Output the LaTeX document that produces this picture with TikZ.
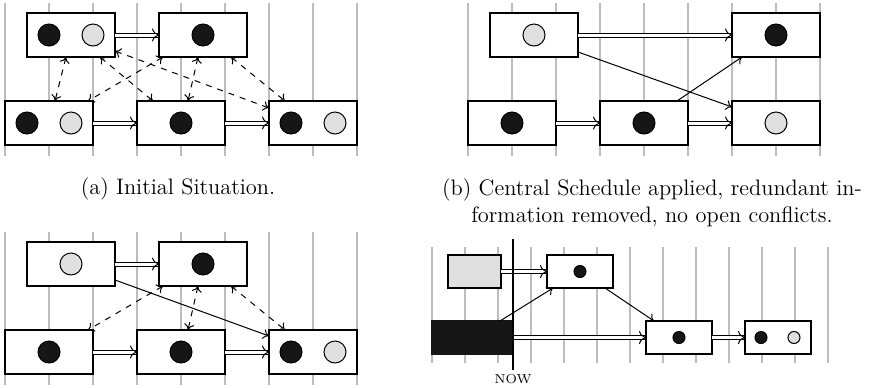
\documentclass[tikz,border=0pt]{standalone}
\usetikzlibrary{arrows.meta, calc}

\definecolor{tokendark}{HTML}{161616}
\definecolor{tokenlight}{HTML}{E0E0E0}
\definecolor{gridgrey}{HTML}{BDBDBD}

\begin{document}
\begin{tikzpicture}[
    x=0.5pt, y=-0.5pt,
    slot/.style={rectangle, draw, fill=white, line width=0.6pt, inner sep=0pt, outer sep=0pt, minimum width=44pt, minimum height=22pt},
    smallslot/.style={slot, minimum width=33pt, minimum height=16.5pt},
    token/.style={circle, draw, line width=0.5pt, inner sep=0pt, minimum size=11pt},
    smalltoken/.style={token, minimum size=6pt},
    taken/.style={fill=tokendark},
    free/.style={fill=tokenlight},
    gridline/.style={draw=gridgrey, line width=0.6pt},
    flow/.style={double, double distance=1.5pt, line width=0.5pt, -{To[length=3.5pt,width=6.5pt]}},
    conflict/.style={dashed, line width=0.5pt, {To[length=3pt,width=5pt]}-{To[length=3pt,width=5pt]}},
    link/.style={line width=0.5pt, -{To[length=3pt,width=5pt]}},
    caption/.style={font=\fontsize{11.2}{13.5}\selectfont, align=center, inner sep=0pt}
]

\useasboundingbox (0,0) rectangle (869,387);

% Grids

\foreach \k in {0,...,8} {
    \draw[gridline] (5+44*\k,3) -- (5+44*\k,156);
    \draw[gridline] (468+44*\k,3) -- (468+44*\k,156);
    \draw[gridline] (5+44*\k,232) -- (5+44*\k,385);
}
\foreach \k in {0,...,12}
    \draw[gridline] (432+33*\k,247) -- (432+33*\k,363);

% (a) Initial situation

\node[slot] (aT1) at (71,35) {};
\node[slot] (aT2) at (203,35) {};
\node[slot] (aB1) at (49,123) {};
\node[slot] (aB2) at (181,123) {};
\node[slot] (aB3) at (313,123) {};

\node[token, taken] (aT1d) at (49,35) {};
\node[token, free] (aT1l) at (93,35) {};
\node[token, taken] (aT2d) at (203,35) {};
\node[token, taken] (aB1d) at (27,123) {};
\node[token, free] (aB1l) at (71,123) {};
\node[token, taken] (aB2d) at (181,123) {};
\node[token, taken] (aB3d) at (291,123) {};
\node[token, free] (aB3l) at (335,123) {};

\draw[flow] (aT1) -- (aT2);
\draw[flow] (aB1) -- (aB2);
\draw[flow] (aB2) -- (aB3);

\draw[conflict] ($(aT1.south)+(-5,0)$) -- ($(aB1.north)+(6,0)$);
\draw[conflict] ($(aT1.south)+(29,0)$) -- ($(aB2.north)+(-28,0)$);
\draw[conflict] ($(aT1.east)+(0,16)$) -- ($(aB3.west)+(0,-15)$);
\draw[conflict] ($(aT2.south)+(-40,0)$) -- ($(aB1.north)+(39,0)$);
\draw[conflict] ($(aT2.south)+(-5,0)$) -- ($(aB2.north)+(7,0)$);
\draw[conflict] ($(aT2.south)+(28,0)$) -- ($(aB3.north)+(-28,0)$);

\node[caption] (capa) at (178,189) {(a) Initial Situation.};

% (b) Central schedule applied

\node[slot] (bT1) at (534,35) {};
\node[slot] (bT2) at (776,35) {};
\node[slot] (bB1) at (512,123) {};
\node[slot] (bB2) at (644,123) {};
\node[slot] (bB3) at (776,123) {};

\node[token, free] (bT1l) at (534,35) {};
\node[token, taken] (bT2d) at (776,35) {};
\node[token, taken] (bB1d) at (512,123) {};
\node[token, taken] (bB2d) at (644,123) {};
\node[token, free] (bB3l) at (776,123) {};

\draw[flow] (bT1) -- (bT2);
\draw[flow] (bB1) -- (bB2);
\draw[flow] (bB2) -- (bB3);

\draw[link] ($(bT1.east)+(0,17)$) -- ($(bB3.west)+(0,-16)$);
\draw[link] ($(bB2.north)+(33,0)$) -- ($(bT2.south)+(-34,0)$);

\node[caption] (capb) at (652,203) {(b) Central Schedule applied, redundant in-\\formation removed, no open conflicts.};

% (c) Conflicts left

\node[slot] (cT1) at (71,264) {};
\node[slot] (cT2) at (203,264) {};
\node[slot] (cB1) at (49,352) {};
\node[slot] (cB2) at (181,352) {};
\node[slot] (cB3) at (313,352) {};

\node[token, free] (cT1l) at (71,264) {};
\node[token, taken] (cT2d) at (203,264) {};
\node[token, taken] (cB1d) at (49,352) {};
\node[token, taken] (cB2d) at (181,352) {};
\node[token, taken] (cB3d) at (291,352) {};
\node[token, free] (cB3l) at (335,352) {};

\draw[flow] (cT1) -- (cT2);
\draw[flow] (cB1) -- (cB2);
\draw[flow] (cB2) -- (cB3);

\draw[link] ($(cT1.east)+(0,16)$) -- ($(cB3.west)+(0,-16)$);

\draw[conflict] ($(cT2.south)+(-40,0)$) -- ($(cB1.north)+(39,0)$);
\draw[conflict] ($(cT2.south)+(-5,0)$) -- ($(cB2.north)+(7,0)$);
\draw[conflict] ($(cT2.south)+(28,0)$) -- ($(cB3.north)+(-28,0)$);

% (d) Execution with NOW line

\node[smallslot, fill=tokenlight, minimum width=26.5pt] (dG) at (474.5,271.5) {};
\node[smallslot, fill=tokendark, draw=tokendark, minimum width=40.5pt] (dK) at (472.5,337.5) {};
\node[smallslot] (dT1) at (580,271.5) {};
\node[smallslot] (dB1) at (679,337.5) {};
\node[smallslot] (dB2) at (778,337.5) {};

\node[smalltoken, taken] (dT1d) at (580,271.5) {};
\node[smalltoken, taken] (dB1d) at (679,337.5) {};
\node[smalltoken, taken] (dB2d) at (761,337.5) {};
\node[smalltoken, free] (dB2l) at (794,337.5) {};

\draw[flow] (dG) -- (dT1);
\draw[flow] (dK) -- (dB1);
\draw[flow] (dB1) -- (dB2);

\draw[link] ($(dK.north)+(27.5,0)$) -- ($(dT1.south)+(-27,0)$);
\draw[link] ($(dT1.south)+(25,0)$) -- ($(dB1.north)+(-25,0)$);

\coordinate (nowtop) at (513,239);
\coordinate (nowbot) at (513,370);
\draw[line width=1.2pt] (nowtop) -- (nowbot);
\node[font=\fontsize{6.5}{7}\selectfont, inner sep=0pt] (now) at (513,379) {NOW};

\end{tikzpicture}
\end{document}
